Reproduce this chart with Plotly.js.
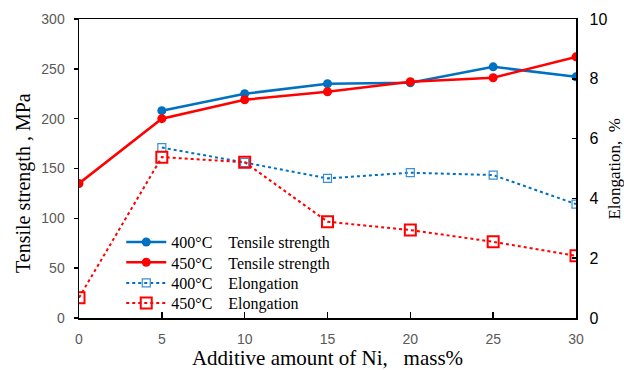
<!DOCTYPE html>
<html><head><meta charset="utf-8">
<script src="https://cdn.plot.ly/plotly-3.0.1.min.js"></script>
<style>body{margin:0;background:#fff}#c{width:624px;height:370px}</style>
</head><body><div id="c"></div>
<script>
const niAmount = [0, 5, 10, 15, 20, 25, 30];
const tensile400 = [null, 208, 225, 235, 236, 252, 242];
const tensile450 = [135, 200, 219, 227, 237, 241, 262];
const elong400 = [null, 5.70, 5.20, 4.67, 4.86, 4.78, 3.81];
const elong450 = [0.68, 5.38, 5.21, 3.22, 2.94, 2.55, 2.08];
const elongTicks = [0, 2, 4, 6, 8, 10];
const sp = '\u00a0\u00a0\u00a0\u00a0';
const names = ['400°C' + sp + 'Tensile strength', '450°C' + sp + 'Tensile strength', '400°C' + sp + 'Elongation', '450°C' + sp + 'Elongation'];
const yTitle = 'Tensile strength , MPa';
const y2Title = 'Elongation,\u00a0\u00a0%';
const xTitle = 'Additive amount of Ni,\u00a0\u00a0\u00a0mass%';

const blue = '#0070C0', red = '#FF0000';
const traces = [
  {x: niAmount, y: tensile400, name: names[0], mode: 'lines+markers', legend: 'legend',
   line: {color: blue, width: 2.5}, marker: {color: blue, size: 9, symbol: 'circle'}},
  {x: niAmount, y: tensile450, name: names[1], mode: 'lines+markers', legend: 'legend2',
   line: {color: red, width: 2.5}, marker: {color: red, size: 9, symbol: 'circle'}},
  {x: niAmount, y: elong400, name: names[2], mode: 'lines+markers', yaxis: 'y2', legend: 'legend3',
   line: {color: blue, width: 2, dash: 'dot'}, marker: {color: '#3A8FD6', size: 8, symbol: 'square-open', line: {width: 1.2}}},
  {x: niAmount, y: elong450, name: names[3], mode: 'lines+markers', yaxis: 'y2', legend: 'legend4',
   line: {color: red, width: 2, dash: 'dot'}, marker: {color: red, size: 11, symbol: 'square-open', line: {width: 2}}}
];
const tickFont = {family: 'Liberation Sans, Arial, sans-serif', size: 14, color: '#595959'};
const titleFont = {family: 'Liberation Serif, Times New Roman, serif', size: 20, color: '#000'};
function leg(y) {
  return {x: 0.085, y: y, xanchor: 'left', yanchor: 'middle', bgcolor: 'rgba(0,0,0,0)',
          font: {family: 'Liberation Serif, Times New Roman, serif', size: 16, color: '#000'},
          itemwidth: 40};
}
const layout = {
  width: 624, height: 370,
  margin: {l: 79, r: 48, t: 19, b: 52},
  paper_bgcolor: '#fff', plot_bgcolor: '#fff',
  showlegend: true,
  legend: leg(0.254), legend2: leg(0.186), legend3: leg(0.117), legend4: leg(0.050),
  xaxis: {range: [0, 30], tickvals: [0, 5, 10, 15, 20, 25, 30], showgrid: false, zeroline: false,
          showline: true, linecolor: '#000', linewidth: 1.5, mirror: true,
          ticks: 'inside', ticklen: 6, tickcolor: '#000', tickwidth: 1.5, tickfont: tickFont,
          ticklabelstandoff: 8,
          title: {text: xTitle, font: {family: titleFont.family, size: 21, color: '#000'}, standoff: 2}},
  yaxis: {range: [0, 300], dtick: 50, showgrid: false, zeroline: false,
          showline: true, linecolor: '#000', linewidth: 1.5,
          ticks: 'outside', ticklen: 4, tickcolor: '#000', tickwidth: 1.5, tickfont: tickFont,
          ticklabelstandoff: 6},
  yaxis2: {range: [0, 10], tickmode: 'array', tickvals: elongTicks,
           ticktext: elongTicks.map(v => '\u2007' + v),
           overlaying: 'y', side: 'right', anchor: 'x', showgrid: false, zeroline: false,
           showline: true, linecolor: '#000', linewidth: 1.5,
           ticks: 'inside', ticklen: 4, tickcolor: '#000', tickwidth: 1.5,
           tickfont: {family: 'Liberation Sans, Arial, sans-serif', size: 16, color: '#000'}},
  annotations: [
    {text: yTitle, xref: 'paper', yref: 'paper', x: -0.1127, y: 0.4515, textangle: -90,
     showarrow: false, xanchor: 'center', yanchor: 'middle', font: titleFont},
    {text: y2Title, xref: 'paper', yref: 'paper', x: 1.0765, y: 0.5, textangle: -90,
     showarrow: false, xanchor: 'center', yanchor: 'middle',
     font: {family: titleFont.family, size: 17, color: '#000'}}
  ]
};
Plotly.newPlot('c', traces, layout, {displayModeBar: false, staticPlot: true});
</script></body></html>
